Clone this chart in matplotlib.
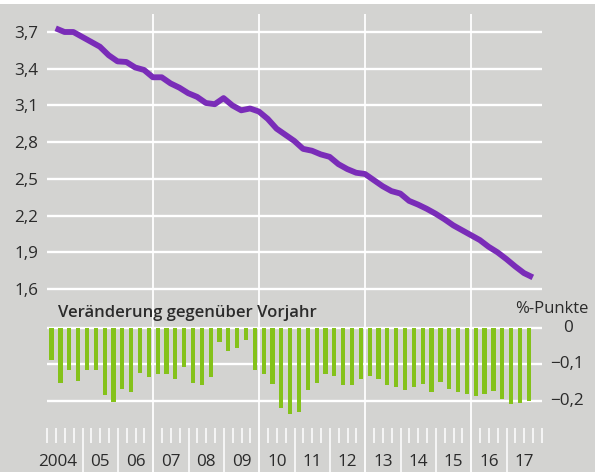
import numpy as np
import matplotlib
matplotlib.use("Agg")
import matplotlib.pyplot as plt

plt.rcParams['font.family'] = ['Open Sans', 'DejaVu Sans']

# Quartalswerte 2004 Q1 .. 2017 Q3
start_year = 2004
level = [3.73, 3.70, 3.70, 3.66, 3.62, 3.58, 3.51, 3.46, 3.455, 3.41,
         3.39, 3.33, 3.33, 3.28, 3.245, 3.20, 3.17, 3.12, 3.11, 3.16,
         3.10, 3.06, 3.075, 3.05, 2.99, 2.91, 2.86, 2.81, 2.745, 2.73,
         2.70, 2.68, 2.62, 2.58, 2.55, 2.54, 2.49, 2.44, 2.40, 2.38,
         2.32, 2.29, 2.255, 2.215, 2.17, 2.12, 2.08, 2.04, 2.00, 1.945,
         1.90, 1.845, 1.785, 1.73, 1.695]
change = [-0.088, -0.150, -0.115, -0.145, -0.115, -0.115, -0.184, -0.202, -0.168, -0.175,
          -0.123, -0.135, -0.126, -0.126, -0.141, -0.108, -0.150, -0.155, -0.135, -0.040,
          -0.064, -0.054, -0.034, -0.115, -0.125, -0.154, -0.220, -0.234, -0.229, -0.170,
          -0.152, -0.126, -0.132, -0.156, -0.155, -0.141, -0.131, -0.141, -0.156, -0.161,
          -0.170, -0.161, -0.154, -0.175, -0.147, -0.166, -0.175, -0.181, -0.186, -0.182,
          -0.172, -0.193, -0.209, -0.205, -0.199]

level_ticks = [1.6, 1.9, 2.2, 2.5, 2.8, 3.1, 3.4, 3.7]
level_labels = ['1,6', '1,9', '2,2', '2,5', '2,8', '3,1', '3,4', '3,7']
change_ticks = [0, -0.1, -0.2]
change_labels = ['0', '\u22120,1', '\u22120,2']
year_labels = ['2004', '05', '06', '07', '08', '09', '10', '11', '12', '13',
               '14', '15', '16', '17']
major_years = [2007, 2010, 2013, 2016]
title = 'Veränderung gegenüber Vorjahr'
unit = '%-Punkte'

BG = '#d3d3d1'
PURPLE = '#7a2cb8'
GREEN = '#84c21a'
TXT = '#2b2b2b'

W, H = 595, 472
x0, x1 = 47.2, 542.0          # Pixel fuer 2004.0 und 2018.0
px_per_year = (x1 - x0) / 14


def fx(px):
    return px / W


def fy(py):
    return 1 - py / H


fig = plt.figure(figsize=(W / 100, H / 100), dpi=100, facecolor=BG)

# Hintergrund-Achse in Pixeln (y) und Jahren (x)
bg = fig.add_axes([0, 0, 1, 1])
bg.set_xlim(start_year - x0 / px_per_year, start_year + (W - x0) / px_per_year)
bg.set_ylim(H, 0)
bg.axis('off')
bg.set_zorder(0)
bg.add_patch(plt.Rectangle((bg.get_xlim()[0], 0), 100, 4, color='white', lw=0))

bg.vlines(major_years, 14, H, color='white', lw=1.3)
for k in range(len(year_labels) + 1):
    yr = start_year + k
    if yr not in major_years:
        if 0 < k < len(year_labels):
            bg.vlines(yr, 428, H, color='white', lw=1.1)
        else:
            bg.vlines(yr, 428, 443, color='white', lw=1.1)
    for q in (0.25, 0.5, 0.75):
        if k < len(year_labels):
            bg.vlines(yr + q, 428, 443, color='white', lw=1.1)

for k, lab in enumerate(year_labels):
    xc = start_year + k + 0.5 if k > 0 else start_year + 0.31
    bg.text(xc, 466.5, lab, ha='center', va='baseline', fontsize=12.3, color=TXT)

# Obere Grafik: Niveau
t = start_year + np.arange(len(level)) / 4
scale = (289 - 32) / 2.1
ax = fig.add_axes([fx(x0), fy(292), fx(x1) - fx(x0), fy(14) - fy(292)])
ax.set_zorder(1)
ax.patch.set_visible(False)
ax.set_xlim(start_year, start_year + 14)
ax.set_ylim(1.6 - 3 / scale, 3.7 + (32 - 14) / scale)
ax.plot(t + 0.24, level, color=PURPLE, lw=4.2, solid_capstyle='butt',
        solid_joinstyle='round', zorder=3)
ax.set_yticks(level_ticks)
ax.set_yticklabels(level_labels)
ax.set_xticks([])
ax.grid(axis='y', color='white', lw=1.7)
ax.tick_params(axis='y', length=0, pad=6.5, labelsize=12.3, colors=TXT)
for s in ax.spines.values():
    s.set_visible(False)

# Untere Grafik: Veraenderung gegenueber Vorjahr
ax2 = fig.add_axes([fx(x0), fy(420), fx(x1) - fx(x0), fy(320) - fy(420)])
ax2.set_zorder(1)
ax2.patch.set_visible(False)
ax2.set_xlim(start_year, start_year + 14)
ax2.set_ylim(-(420 - 327.7) / 367, (327.7 - 320) / 367)
ax2.bar(t + 0.125, change, width=0.12, color=GREEN, zorder=3, clip_on=False)
ax2.set_yticks(change_ticks)
ax2.set_yticklabels([])
ax2.set_xticks([])
ax2.grid(axis='y', color='white', lw=1.7)
ax2.tick_params(length=0)
for s in ax2.spines.values():
    s.set_visible(False)

for v, lab in zip(change_ticks, change_labels):
    xpx = 563 if v == 0 else 550
    bg.text(start_year + (xpx - x0) / px_per_year, 327.7 - v * 367, lab,
            ha='left', va='center', fontsize=12.3, color=TXT)

bg.text(start_year + (58 - x0) / px_per_year, 316.7, title, ha='left',
        va='baseline', fontsize=12, fontweight='semibold', color=TXT)
bg.text(start_year + (588 - x0) / px_per_year, 313.3, unit, ha='right',
        va='baseline', fontsize=12, color=TXT)

fig.savefig('out.png', dpi=100, facecolor=BG)
